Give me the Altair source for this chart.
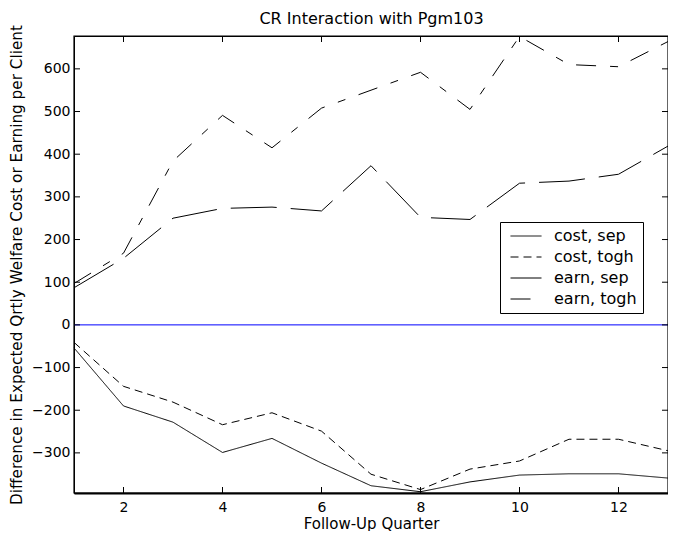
import altair as alt
import pandas as pd

quarters = list(range(1, 14))
cost_sep = [-54, -190, -228, -299, -266, -324, -377, -391, -368, -352, -349, -349, -359]
cost_togh = [-41, -144, -181, -234, -206, -249, -350, -386, -338, -319, -268, -268, -295]
earn_sep = [87, 156, 250, 273, 276, 267, 373, 252, 247, 332, 337, 353, 419]
earn_togh = [97, 168, 384, 491, 415, 508, 550, 592, 505, 676, 610, 605, 664]
series_names = ["cost, sep", "cost, togh", "earn, sep", "earn, togh"]
y_ticks = [-300, -200, -100, 0, 100, 200, 300, 400, 500, 600]
x_ticks = [2, 4, 6, 8, 10, 12]
title_text = "CR Interaction with Pgm103"
x_title = "Follow-Up Quarter"
y_title = "Difference in Expected Qrtly Welfare Cost or Earning per Client"

rows = []
for name, vals in zip(series_names, [cost_sep, cost_togh, earn_sep, earn_togh]):
    for q, v in zip(quarters, vals):
        rows.append({"quarter": q, "value": v, "series": name})
df = pd.DataFrame(rows)

W, H = 594, 457
PAD_L, PAD_T, PAD_B = 66, 28, 38
FONT = "DejaVu Sans"

xscale = alt.Scale(domain=[1, 13], nice=False, zero=False)
yscale = alt.Scale(domain=[-394, 677], nice=False, zero=False)
xaxis = alt.Axis(values=x_ticks, title=x_title, ticks=False, domain=True,
                 domainColor="black", domainWidth=2, grid=False,
                 labelFont=FONT, labelFontSize=14, labelColor="black",
                 labelPadding=7, titleFont=FONT, titleFontSize=15,
                 titleFontWeight="normal", titleColor="black", titlePadding=2,
                 format="d")
topaxis = alt.Axis(orient="top", values=x_ticks, title=title_text, labels=False,
                   ticks=False, domain=False, grid=False, titleFont=FONT,
                   titleFontSize=16, titleFontWeight="normal",
                   titleColor="black", titlePadding=10)
yaxis = alt.Axis(values=y_ticks, title=y_title, ticks=False, domain=False,
                 grid=False, labelFont=FONT, labelFontSize=14,
                 labelColor="black", labelPadding=4, titleFont=FONT,
                 titleFontSize=15.25, titleFontWeight="normal",
                 titleColor="black", titlePadding=7, format="d")

X = alt.X("quarter:Q", scale=xscale, axis=xaxis)
Y = alt.Y("value:Q", scale=yscale, axis=yaxis)

lines = alt.Chart(df).mark_line(color="black", strokeWidth=1).encode(
    x=X,
    y=Y,
    strokeDash=alt.StrokeDash(
        "series:N",
        scale=alt.Scale(domain=series_names,
                        range=[[1, 0], [8, 5], [46, 14], [20, 14, 8, 14]]),
        legend=alt.Legend(title=None, orient="none",
                          legendX=500 - 8 - PAD_L, legendY=222 - 8 - PAD_T,
                          fillColor="white", strokeColor="black", padding=6,
                          symbolType="M-0.7,0H5.5", symbolSize=100,
                          symbolStrokeWidth=1, symbolStrokeColor="black",
                          labelFont=FONT, labelFontSize=16, labelColor="black",
                          labelOffset=32, rowPadding=5, cornerRadius=0),
    ),
)

zero = alt.Chart(pd.DataFrame({"value": [0]})).mark_rule(
    color="#0000ff", strokeWidth=1).encode(y=Y)

ytick_df = pd.DataFrame({"value": y_ticks})
xtick_df = pd.DataFrame({"quarter": x_ticks})
left_ticks = alt.Chart(ytick_df).mark_rule(color="black", strokeWidth=1).encode(
    y=Y, x=alt.value(0), x2=alt.value(6))
right_ticks = alt.Chart(ytick_df).mark_rule(color="black", strokeWidth=1).encode(
    y=Y, x=alt.value(W - 6), x2=alt.value(W))
bottom_ticks = alt.Chart(xtick_df).mark_rule(color="black", strokeWidth=1).encode(
    x=alt.X("quarter:Q", scale=xscale, axis=None), y=alt.value(H - 6), y2=alt.value(H))
top_ticks = alt.Chart(xtick_df).mark_rule(color="black", strokeWidth=1).encode(
    x=alt.X("quarter:Q", scale=xscale, axis=topaxis), y=alt.value(0), y2=alt.value(6))

frame_df = pd.DataFrame({"k": [0]})
frame = alt.Chart(frame_df).mark_rect(
    fill="white", fillOpacity=0, stroke="black", strokeWidth=1.2).encode(
    x=alt.value(0), x2=alt.value(W), y=alt.value(0), y2=alt.value(H))

chart = alt.layer(
    zero, lines, left_ticks, right_ticks, bottom_ticks, top_ticks, frame,
).resolve_axis(x="independent").properties(
    width=W, height=H,
    background="white",
    autosize=alt.AutoSizeParams(type="none"),
    padding={"left": PAD_L, "top": PAD_T, "right": 0, "bottom": PAD_B},
).configure_view(stroke="black", strokeWidth=1)

chart.save("out.html", embed_options={"renderer": "svg", "actions": False})
